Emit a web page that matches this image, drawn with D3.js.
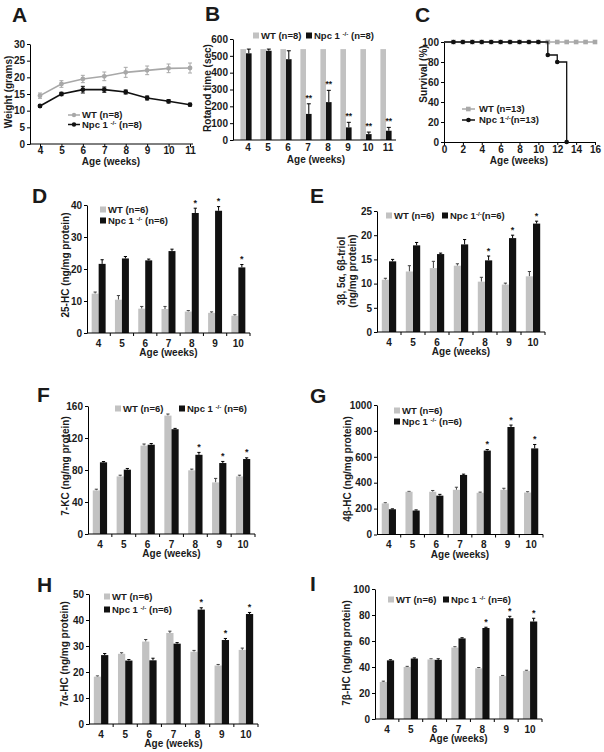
<!DOCTYPE html>
<html><head><meta charset="utf-8">
<script src="https://cdn.jsdelivr.net/npm/d3@7"></script>
<style>
body{margin:0;background:#fff}
svg{display:block;font-family:"Liberation Sans",Arial,sans-serif;font-weight:bold}
</style></head><body>
<svg id="c" width="604" height="752"></svg>
<script>
// ---------- DATA ----------
const weeksA = [4,5,6,7,8,9,10,11];
const weightWT = [14.5,18,19.5,20.3,21.5,22.1,22.7,22.8];
const weightWTErr = [0.8,1.0,1.1,1.3,1.5,1.3,1.3,1.5];
const weightNpc = [11.4,15,16.3,16.3,15.6,13.8,12.8,11.8];
const weightNpcErr = [0.4,0.5,1.0,0.8,0.6,0.6,0.5,0.4];
const ticksWeight = [0,5,10,15,20,25,30];

const rotaWT = [540,540,540,540,540,540,540,540];
const rotaNpc = [515,530,480,155,225,75,35,55];
const rotaNpcErr = [25,10,50,60,70,30,12,20];
const rotaStars = ["","","","**","**","**","**","**"];
const ticksRota = [0,100,200,300,400,500,600];

const survWeeksWT = [0,1,2,3,4,5,6,7,8,9,10,11,12,13,14,15,16];
const survWT = [100,100,100,100,100,100,100,100,100,100,100,100,100,100,100,100,100];
const survWeeksNpc = [0,1,2,3,4,5,6,7,8,9,10,11,12,13];
const survNpc = [100,100,100,100,100,100,100,100,100,100,100,87,80,0];
const ticksSurvX = [0,2,4,6,8,10,12,14,16];
const ticksSurvY = [0,20,40,60,80,100];

const weeksBar = [4,5,6,7,8,9,10];
const starsBar = ["","","","","*","*","*"];

const hc25WT = [12.3,10.4,7.6,7.5,6.7,6.3,5.4];
const hc25WTErr = [0.5,1.3,0.7,0.8,0.3,0.3,0.3];
const hc25Npc = [21.6,23.3,22.7,25.6,37.5,38.2,20.5];
const hc25NpcErr = [1.3,0.6,0.4,0.6,1.5,1.3,0.9];
const ticksHc25 = [0,10,20,30,40];

const triolWT = [10.8,12.5,13.2,13.7,10.4,9.8,11.5];
const triolWTErr = [0.3,1.2,1.4,0.4,0.9,0.3,1.0];
const triolNpc = [14.6,17.9,16.1,18.1,14.8,19.4,22.4];
const triolNpcErr = [0.4,0.6,0.2,1.0,0.9,0.6,0.5];
const ticksTriol = [0,5,10,15,20,25];

const kc7WT = [54.5,72,110.5,148,79.6,64.5,72];
const kc7WTErr = [1.5,1.5,2,2,1.5,5,1.5];
const kc7Npc = [89.6,80.4,111.6,131,99,88.7,93.7];
const kc7NpcErr = [1,1.5,1.5,1,3,2,1.5];
const ticksKc7 = [0,40,80,120,160];

const hc4bWT = [240,330,330,345,322,345,324];
const hc4bWTErr = [5,3,10,20,5,12,6];
const hc4bNpc = [195,185,300,460,648,830,665];
const hc4bNpcErr = [3,5,10,6,8,15,30];
const ticksHc4b = [0,200,400,600,800,1000];

const hc7aWT = [18.2,27,31.7,35,27.8,22.5,28.5];
const hc7aWTErr = [0.3,0.4,0.8,0.7,0.5,0.4,0.7];
const hc7aNpc = [26.5,24.4,24.5,30.9,44,32.3,42.3];
const hc7aNpcErr = [0.6,0.4,0.8,0.4,0.7,0.6,0.6];
const ticksHc7a = [0,10,20,30,40,50];

const hc7bWT = [28.5,40,45.8,55,39,33,37];
const hc7bWTErr = [0.6,0.5,0.5,0.6,0.6,0.5,0.5];
const hc7bNpc = [45.1,46.5,45.5,62,70,77.5,75];
const hc7bNpcErr = [0.5,0.5,0.8,0.5,0.6,1.5,2.5];
const ticksHc7b = [0,20,40,60,80,100];

// ---------- STYLE ----------
const GRAY = "#c2c2c2", LINEGRAY = "#a8a8a8", BLACK = "#111", TXT = "#1a1a1a";
const fmt = d3.format("d");
const svg = d3.select("#c");

function panelLetter(t, x, y){
  svg.append("text").attr("x",x).attr("y",y).attr("font-size",21).attr("fill",TXT).text(t);
}
function styleAxis(g){
  g.selectAll("path,line").attr("stroke","#000").attr("stroke-width",1);
  g.selectAll("text").attr("font-size",10).attr("font-weight","bold").attr("fill",TXT).attr("font-family","Liberation Sans, Arial, sans-serif");
}
function yLabel(lines, x, y){
  const t = svg.append("text").attr("transform",`translate(${x},${y}) rotate(-90)`)
    .attr("text-anchor","middle").attr("font-size",10).attr("fill",TXT);
  lines.forEach((l,i)=>{
    t.append("tspan").attr("x",0).attr("dy", i===0 ? -(lines.length-1)*5.5 : 11).text(l);
  });
}
function npcText(sel, sp1, sp2, n, fs){
  sel.append("tspan").text("Npc 1" + sp1);
  sel.append("tspan").attr("dy",-3).attr("font-size",fs*0.65).text("-/-");
  sel.append("tspan").attr("dy",3).text(sp2 + "(n=" + n + ")");
}
function legendSquare(x, yc, fill, kind, txtSp){
  svg.append("rect").attr("x",x).attr("y",yc-3).attr("width",6).attr("height",6).attr("fill",fill);
  const t = svg.append("text").attr("x",x+8).attr("y",yc+3.3).attr("font-size",9.5).attr("fill",TXT);
  if(kind==="wt") t.text("WT (n=" + txtSp + ")");
  else npcText(t, txtSp[0], txtSp[1], txtSp[2], 9.5);
}

// ---------- PANEL A ----------
(function(){
  const x = d3.scaleLinear().domain([4,11]).range([40,190]);
  const y = d3.scaleLinear().domain([0,30]).range([144,44]);
  const ga = svg.append("g").attr("transform","translate(30,0)")
    .call(d3.axisLeft(y).tickValues(ticksWeight).tickFormat(fmt).tickSize(3).tickSizeOuter(0).tickPadding(2));
  styleAxis(ga);
  const gx = svg.append("g").attr("transform","translate(0,144)")
    .call(d3.axisBottom(x).tickValues(weeksA).tickFormat(fmt).tickSize(3).tickSizeOuter(0).tickPadding(0));
  gx.select(".domain").attr("d","M30,0H193");
  styleAxis(gx);
  const series = [
    {v:weightWT,e:weightWTErr,c:LINEGRAY},
    {v:weightNpc,e:weightNpcErr,c:BLACK}
  ];
  series.forEach(s=>{
    const pts = weeksA.map((w,i)=>({w,v:s.v[i],e:s.e[i]}));
    svg.append("path").datum(pts).attr("fill","none").attr("stroke",s.c).attr("stroke-width",1.6)
      .attr("d",d3.line().x(d=>x(d.w)).y(d=>y(d.v)));
    const eb = svg.append("g").attr("stroke",s.c).attr("stroke-width",1);
    eb.selectAll("line.v").data(pts).join("line").attr("x1",d=>x(d.w)).attr("x2",d=>x(d.w))
      .attr("y1",d=>y(d.v-d.e)).attr("y2",d=>y(d.v+d.e));
    eb.selectAll("line.t").data(pts).join("line").attr("x1",d=>x(d.w)-2).attr("x2",d=>x(d.w)+2)
      .attr("y1",d=>y(d.v+d.e)).attr("y2",d=>y(d.v+d.e));
    eb.selectAll("line.b").data(pts).join("line").attr("x1",d=>x(d.w)-2).attr("x2",d=>x(d.w)+2)
      .attr("y1",d=>y(d.v-d.e)).attr("y2",d=>y(d.v-d.e));
    svg.append("g").selectAll("circle").data(pts).join("circle").attr("cx",d=>x(d.w)).attr("cy",d=>y(d.v))
      .attr("r",2.4).attr("fill",s.c);
  });
  // legend
  [[115,LINEGRAY,"wt"],[124.5,BLACK,"npc"]].forEach(([ly,c,k])=>{
    svg.append("line").attr("x1",68).attr("x2",80).attr("y1",ly).attr("y2",ly).attr("stroke",c).attr("stroke-width",1.5);
    svg.append("circle").attr("cx",74).attr("cy",ly).attr("r",2.2).attr("fill",c);
    const t = svg.append("text").attr("x",82).attr("y",ly+3.3).attr("font-size",9.5).attr("fill",TXT);
    if(k==="wt") t.text("WT (n=8)"); else npcText(t," ","  ","8",9.5);
  });
  yLabel(["Weight (grams)"],12,92);
  svg.append("text").attr("x",111).attr("y",165).attr("text-anchor","middle").attr("font-size",10).attr("fill",TXT).text("Age (weeks)");
  panelLetter("A",12,22);
})();

// ---------- PANEL B ----------
(function(){
  const x = d3.scaleBand().domain(weeksA).range([236,396]);
  const y = d3.scaleLinear().domain([0,600]).range([140,39]);
  const bw = x.bandwidth()*0.28;
  const cx = w => x(w)+x.bandwidth()/2;
  svg.append("g").selectAll("rect").data(weeksA).join("rect")
    .attr("x",w=>cx(w)-bw).attr("width",bw).attr("y",(w,i)=>y(rotaWT[i])).attr("height",(w,i)=>y(0)-y(rotaWT[i])).attr("fill",GRAY);
  const eb = svg.append("g").attr("stroke","#000").attr("stroke-width",1);
  eb.selectAll("line.v").data(weeksA).join("line").attr("x1",w=>cx(w)+bw/2).attr("x2",w=>cx(w)+bw/2)
    .attr("y1",(w,i)=>y(rotaNpc[i])).attr("y2",(w,i)=>y(rotaNpc[i]+rotaNpcErr[i]));
  eb.selectAll("line.c").data(weeksA).join("line").attr("x1",w=>cx(w)+bw/2-2).attr("x2",w=>cx(w)+bw/2+2)
    .attr("y1",(w,i)=>y(rotaNpc[i]+rotaNpcErr[i])).attr("y2",(w,i)=>y(rotaNpc[i]+rotaNpcErr[i]));
  svg.append("g").selectAll("rect").data(weeksA).join("rect")
    .attr("x",w=>cx(w)).attr("width",bw).attr("y",(w,i)=>y(rotaNpc[i])).attr("height",(w,i)=>y(0)-y(rotaNpc[i])).attr("fill",BLACK);
  svg.append("g").selectAll("text").data(weeksA).join("text")
    .attr("x",w=>cx(w)+bw/2).attr("y",(w,i)=>y(rotaNpc[i]+rotaNpcErr[i])-3).attr("text-anchor","middle")
    .attr("font-size",8.5).attr("fill",TXT).text((w,i)=>rotaStars[i]);
  const ga = svg.append("g").attr("transform","translate(233,0)")
    .call(d3.axisLeft(y).tickValues(ticksRota).tickFormat(fmt).tickSize(3).tickSizeOuter(0).tickPadding(2));
  styleAxis(ga);
  svg.append("line").attr("x1",233).attr("x2",396).attr("y1",140).attr("y2",140).attr("stroke","#000");
  svg.append("g").selectAll("text").data(weeksA).join("text").attr("x",w=>cx(w)+2).attr("y",151)
    .attr("text-anchor","middle").attr("font-size",10).attr("fill",TXT).text(w=>w);
  legendSquare(253,35.5,GRAY,"wt","8");
  legendSquare(306,35.5,BLACK,"npc",[" "," ","8"]);
  yLabel(["Rotarod time (sec)"],211,88);
  svg.append("text").attr("x",316).attr("y",163).attr("text-anchor","middle").attr("font-size",10).attr("fill",TXT).text("Age (weeks)");
  panelLetter("B",205,21);
})();

// ---------- PANEL C ----------
(function(){
  const x = d3.scaleLinear().domain([0,16]).range([444,595]);
  const y = d3.scaleLinear().domain([0,100]).range([142,42]);
  const ga = svg.append("g").attr("transform","translate(444,0)")
    .call(d3.axisLeft(y).tickValues(ticksSurvY).tickFormat(fmt).tickSize(3).tickSizeOuter(0).tickPadding(2));
  styleAxis(ga);
  const gx = svg.append("g").attr("transform","translate(0,142)")
    .call(d3.axisBottom(x).tickValues(ticksSurvX).tickFormat(fmt).tickSize(3).tickSizeOuter(0).tickPadding(1));
  styleAxis(gx);
  const wt = survWeeksWT.map((w,i)=>({w,v:survWT[i]}));
  const npc = survWeeksNpc.map((w,i)=>({w,v:survNpc[i]}));
  const line = d3.line().x(d=>x(d.w)).y(d=>y(d.v)).curve(d3.curveStepAfter);
  svg.append("path").datum(wt).attr("d",line).attr("fill","none").attr("stroke",LINEGRAY).attr("stroke-width",1.5);
  svg.append("g").selectAll("rect").data(wt.slice(1)).join("rect")
    .attr("x",d=>x(d.w)-2.3).attr("y",d=>y(d.v)-2.3).attr("width",4.6).attr("height",4.6).attr("fill",LINEGRAY);
  svg.append("path").datum(npc).attr("d",line).attr("fill","none").attr("stroke",BLACK).attr("stroke-width",1.3);
  svg.append("g").selectAll("circle").data(npc.slice(1)).join("circle")
    .attr("cx",d=>x(d.w)).attr("cy",d=>y(d.v)).attr("r",2.3).attr("fill",BLACK);
  [[109,LINEGRAY,"wt"],[120,BLACK,"npc"]].forEach(([ly,c,k])=>{
    svg.append("line").attr("x1",462).attr("x2",475).attr("y1",ly).attr("y2",ly).attr("stroke",c).attr("stroke-width",1.5);
    if(k==="wt") svg.append("rect").attr("x",466).attr("y",ly-2.3).attr("width",4.6).attr("height",4.6).attr("fill",c);
    else svg.append("circle").attr("cx",468.5).attr("cy",ly).attr("r",2.3).attr("fill",c);
    const t = svg.append("text").attr("x",479).attr("y",ly+3.3).attr("font-size",9.5).attr("fill",TXT);
    if(k==="wt") t.text("WT (n=13)"); else npcText(t,"","","13",9.5);
  });
  yLabel(["Survival (%)"],427,74);
  svg.append("text").attr("x",519).attr("y",164).attr("text-anchor","middle").attr("font-size",10).attr("fill",TXT).text("Age (weeks)");
  panelLetter("C",415,22);
})();

// ---------- BAR PANELS ----------
function barPanel(o){
  const x = d3.scaleBand().domain(weeksBar).range([o.x0,o.x1]);
  const y = d3.scaleLinear().domain([0,o.max]).range([o.y0,o.yTop]);
  const bw = x.bandwidth()*0.3;
  const cx = w => x(w)+x.bandwidth()/2;
  const sets = [
    {v:o.wt,e:o.wtErr,fill:GRAY,off:-bw,ec:"#444"},
    {v:o.npc,e:o.npcErr,fill:BLACK,off:0,ec:"#000"}
  ];
  sets.forEach(s=>{
    const eb = svg.append("g").attr("stroke",s.ec).attr("stroke-width",1);
    eb.selectAll("line.v").data(weeksBar).join("line")
      .attr("x1",w=>cx(w)+s.off+bw/2).attr("x2",w=>cx(w)+s.off+bw/2)
      .attr("y1",(w,i)=>y(s.v[i])).attr("y2",(w,i)=>y(s.v[i]+s.e[i]));
    eb.selectAll("line.c").data(weeksBar).join("line")
      .attr("x1",w=>cx(w)+s.off+bw/2-1.6).attr("x2",w=>cx(w)+s.off+bw/2+1.6)
      .attr("y1",(w,i)=>y(s.v[i]+s.e[i])).attr("y2",(w,i)=>y(s.v[i]+s.e[i]));
    svg.append("g").selectAll("rect").data(weeksBar).join("rect")
      .attr("x",w=>cx(w)+s.off).attr("width",bw)
      .attr("y",(w,i)=>y(s.v[i])).attr("height",(w,i)=>y(0)-y(s.v[i])).attr("fill",s.fill);
  });
  svg.append("g").selectAll("text").data(weeksBar).join("text")
    .attr("x",w=>cx(w)+bw/2).attr("y",(w,i)=>y(o.npc[i]+o.npcErr[i])-2.5).attr("text-anchor","middle")
    .attr("font-size",9).attr("fill",TXT).text((w,i)=>starsBar[i]);
  const ga = svg.append("g").attr("transform",`translate(${o.x0},0)`)
    .call(d3.axisLeft(y).tickValues(o.ticks).tickFormat(fmt).tickSize(3).tickSizeOuter(0).tickPadding(2));
  styleAxis(ga);
  const gx = svg.append("g").attr("transform",`translate(0,${o.y0})`);
  gx.append("line").attr("x1",o.x0).attr("x2",o.x1).attr("stroke","#000");
  gx.selectAll("line.t").data(weeksBar).join("line").attr("class","t")
    .attr("x1",w=>x(w)+x.bandwidth()).attr("x2",w=>x(w)+x.bandwidth()).attr("y1",0).attr("y2",3).attr("stroke","#000");
  gx.selectAll("text").data(weeksBar).join("text").attr("x",w=>cx(w)).attr("y",13.5)
    .attr("text-anchor","middle").attr("font-size",10).attr("fill",TXT).text(w=>w);
  svg.append("text").attr("x",(o.x0+o.x1)/2).attr("y",o.y0+23).attr("text-anchor","middle")
    .attr("font-size",10).attr("fill",TXT).text("Age (weeks)");
  yLabel(o.ylab, o.ylx, o.yly);
  panelLetter(o.letter, o.lx, o.ly);
  legendSquare(o.leg[0][0], o.leg[0][1], GRAY, "wt", "6");
  legendSquare(o.leg[1][0], o.leg[1][1], BLACK, "npc", o.npcSp);
}

barPanel({letter:"D",lx:32,ly:203,x0:87,x1:250,y0:333,yTop:205,max:40,ticks:ticksHc25,
  wt:hc25WT,wtErr:hc25WTErr,npc:hc25Npc,npcErr:hc25NpcErr,
  ylab:["25-HC (ng/mg protein)"],ylx:68.5,yly:265,leg:[[100,209.5],[100,220.5]],npcSp:[" "," ","6"]});
barPanel({letter:"E",lx:310,ly:203,x0:377,x1:545,y0:332,yTop:211,max:25,ticks:ticksTriol,
  wt:triolWT,wtErr:triolWTErr,npc:triolNpc,npcErr:triolNpcErr,
  ylab:["3β, 5α, 6β-triol","(ng/mg protein)"],ylx:350.5,yly:271,leg:[[386,215.5],[442,215.5]],npcSp:["","","6"]});
barPanel({letter:"F",lx:37,ly:402,x0:88,x1:255,y0:534,yTop:406,max:160,ticks:ticksKc7,
  wt:kc7WT,wtErr:kc7WTErr,npc:kc7Npc,npcErr:kc7NpcErr,
  ylab:["7-KC (ng/mg protein)"],ylx:69,yly:466,leg:[[115,408.5],[179,408.5]],npcSp:[" "," ","6"]});
barPanel({letter:"G",lx:310,ly:403,x0:377,x1:543,y0:534.5,yTop:405,max:1000,ticks:ticksHc4b,
  wt:hc4bWT,wtErr:hc4bWTErr,npc:hc4bNpc,npcErr:hc4bNpcErr,
  ylab:["4β-HC (ng/mg protein)"],ylx:351,yly:469,leg:[[394,410.5],[394,421.5]],npcSp:[" "," ","6"]});
barPanel({letter:"H",lx:37,ly:592,x0:89,x1:258,y0:724,yTop:594,max:50,ticks:ticksHc7a,
  wt:hc7aWT,wtErr:hc7aWTErr,npc:hc7aNpc,npcErr:hc7aNpcErr,
  ylab:["7α-HC (ng/mg protein)"],ylx:68,yly:654,leg:[[104,596.5],[104,609.5]],npcSp:[" "," ","6"]});
barPanel({letter:"I",lx:310,ly:591,x0:375,x1:542,y0:719,yTop:589,max:100,ticks:ticksHc7b,
  wt:hc7bWT,wtErr:hc7bWTErr,npc:hc7bNpc,npcErr:hc7bNpcErr,
  ylab:["7β-HC (ng/mg protein)"],ylx:350,yly:653,leg:[[388,599.5],[443,599.5]],npcSp:[" "," ","6"]});
</script>
</body></html>
